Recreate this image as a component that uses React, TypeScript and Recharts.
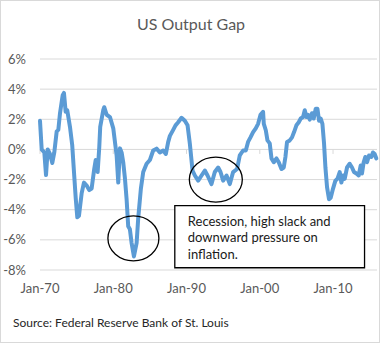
import { CartesianGrid, Line, LineChart, ReferenceArea, ReferenceDot, ReferenceLine, XAxis, YAxis } from "recharts";

// output gap, % of potential GDP (decimal years)
const years = [
  1970.0, 1970.23, 1970.59, 1970.82, 1971.05, 1971.36, 1971.68, 1971.95, 1972.28, 1972.5,
  1972.73, 1973.1, 1973.27, 1973.5, 1973.72, 1974.09, 1974.4, 1974.68, 1974.87, 1975.09,
  1975.32, 1975.69, 1976.0, 1976.37, 1976.72, 1977.05, 1977.4, 1977.6, 1977.87, 1978.09,
  1978.22, 1978.63, 1978.77, 1979.1, 1979.55, 1980.0, 1980.46, 1980.68, 1980.91, 1981.14,
  1981.36, 1981.59, 1981.82, 1982.04, 1982.27, 1982.5, 1982.82, 1983.19, 1983.4, 1983.77,
  1984.09, 1984.55, 1985.0, 1985.45, 1985.91, 1986.36, 1986.81, 1987.18, 1987.5, 1987.73,
  1988.18, 1988.5, 1988.86, 1989.32, 1989.77, 1990.14, 1990.45, 1990.82, 1991.14, 1991.59,
  1992.05, 1992.5, 1992.87, 1993.41, 1993.86, 1994.32, 1994.64, 1995.0, 1995.46, 1995.91,
  1996.36, 1996.9, 1997.27, 1997.72, 1998.09, 1998.4, 1998.73, 1999.09, 1999.45, 1999.77,
  2000.1, 2000.45, 2000.55, 2000.82, 2001.05, 2001.36, 2001.6, 2001.91, 2002.28, 2002.59,
  2002.96, 2003.27, 2003.5, 2003.72, 2004.09, 2004.4, 2004.68, 2005.0, 2005.32, 2005.59,
  2005.91, 2006.14, 2006.37, 2006.59, 2006.82, 2007.13, 2007.36, 2007.64, 2007.87, 2008.09,
  2008.32, 2008.55, 2008.77, 2008.96, 2009.18, 2009.45, 2009.68, 2010.0, 2010.32, 2010.6,
  2010.91, 2011.14, 2011.36, 2011.59, 2011.91, 2012.27, 2012.59, 2012.86, 2013.19, 2013.5,
  2013.77, 2013.95, 2014.18, 2014.41, 2014.64, 2014.91, 2015.23, 2015.45, 2015.68, 2015.91,
];
const gap = [
  1.9, 0.0, -0.2, -1.7, 0.0, -0.3, -0.9, -0.2, 1.2, 1.3,
  2.4, 3.6, 3.75, 2.5, 2.6, 1.5, 0.27, -1.8, -3.2, -4.5,
  -4.4, -2.9, -2.2, -2.4, -2.7, -2.6, -1.3, -0.7, -1.5, 0.15,
  1.5, 2.6, 2.8, 2.3, 2.15, 1.4, -0.4, -2.2, 0.07, -0.2,
  -0.85, -1.9, -3.3, -5.1, -5.3, -6.2, -7.1, -6.2, -4.6, -2.6,
  -1.5, -0.95, -0.7, -0.07, 0.05, -0.2, -0.07, -0.3, 0.5, 0.9,
  1.3, 1.6, 1.8, 2.1, 1.9, 1.6, 0.4, -1.4, -1.73, -2.07,
  -1.73, -1.4, -1.73, -2.3, -1.5, -1.2, -1.5, -2.07, -1.73, -2.3,
  -1.5, -1.3, -0.4, -0.07, -0.07, 0.5, 0.8, 1.15, 1.4, 1.7,
  2.3, 2.5, 1.7, 1.27, 0.6, 0.4, -0.6, -0.85, -0.6, -0.85,
  -1.3, -1.2, -0.5, 0.5, 0.6, 0.8, 1.15, 1.6, 1.8, 2.05,
  2.15, 2.6, 2.15, 2.3, 1.98, 2.4, 2.05, 2.7, 2.7, 1.9,
  2.05, 1.7, 0.4, -1.2, -2.5, -3.3, -3.2, -2.6, -2.07, -1.95,
  -1.5, -2.2, -1.73, -1.95, -1.2, -0.95, -1.2, -1.5, -1.6, -1.73,
  -1.07, -1.6, -0.85, -0.5, -0.85, -0.4, -0.5, -0.2, -0.3, -0.6,
];

const xTicks = [1970, 1980, 1990, 2000, 2010];
const yTicks = [-8, -6, -4, -2, 0, 2, 4, 6];
const noteLines = ["Recession, high slack and", "downward pressure on", "inflation."];

const data = years.map((year, i) => ({ year, gap: gap[i] }));

const font = "Lato, 'Open Sans', sans-serif";
const textGray = "#595959";

const Ellipse = (rx: number, ry: number) => (props: any) => (
  <ellipse cx={props.cx} cy={props.cy} rx={rx} ry={ry} fill="none" stroke="#000" strokeWidth={1.3} />
);

const NoteLabel = (props: any) => {
  const { x, y } = props.viewBox;
  return (
    <text x={x + 13} y={y + 20} fontFamily={font} fontSize={13} fill="#1a1a1a">
      {noteLines.map((l, i) => (
        <tspan key={i} x={x + 13} dy={i === 0 ? 0 : 16.5}>
          {l}
        </tspan>
      ))}
    </text>
  );
};

export default function App() {
  return (
    <div
      style={{
        position: "absolute",
        left: 0,
        top: 0,
        width: 380,
        height: 343,
        background: "#fff",
        border: "1px solid #d9d9d9",
        boxSizing: "border-box",
        fontFamily: font,
      }}
    >
      <div style={{ position: "absolute", top: 13, left: 0, width: 380, textAlign: "center", fontSize: 16, color: textGray }}>
        US Output Gap
      </div>
      <div style={{ position: "absolute", left: 12, top: 314, fontSize: 12, color: "#262626" }}>
        Source: Federal Reserve Bank of St. Louis
      </div>
      <div style={{ position: "absolute", left: -1, top: -1 }}>
        <LineChart width={380} height={343} data={data} margin={{ top: 59, right: 3, bottom: 43, left: 0 }}>
          <CartesianGrid vertical={false} stroke="#d9d9d9" />
          <XAxis
            dataKey="year"
            type="number"
            domain={[1970, 2016]}
            ticks={xTicks}
            tickFormatter={(v: number) => "Jan-" + String(v).slice(2)}
            axisLine={false}
            tickLine={false}
            tickSize={0}
            tickMargin={14}
            height={30}
            tick={{ fill: textGray, fontSize: 13, fontFamily: font }}
          />
          <YAxis
            domain={[-8, 6]}
            ticks={yTicks}
            tickFormatter={(v: number) => `${v}%`}
            axisLine={false}
            tickLine={false}
            tickSize={0}
            tickMargin={14}
            width={40}
            tick={{ fill: textGray, fontSize: 13, fontFamily: font }}
          />
          {xTicks.map((t) => (
            <ReferenceLine
              key={t}
              segment={[
                { x: t, y: 0 },
                { x: t, y: -0.3 },
              ]}
              stroke="#d9d9d9"
            />
          ))}
          <Line
            type="linear"
            dataKey="gap"
            stroke="#5b9bd5"
            strokeWidth={4}
            strokeLinejoin="round"
            strokeLinecap="round"
            dot={false}
            isAnimationActive={false}
          />
          <ReferenceDot x={1982.75} y={-5.9} shape={Ellipse(25.5, 22.5)} />
          <ReferenceDot x={1994.0} y={-2.0} shape={Ellipse(26.5, 22.5)} />
          <ReferenceArea
            x1={1988.4}
            x2={2014.3}
            y1={-7.85}
            y2={-3.73}
            fill="#fff"
            fillOpacity={1}
            stroke="#000"
            strokeWidth={1.3}
            label={<NoteLabel />}
          />
        </LineChart>
      </div>
    </div>
  );
}
